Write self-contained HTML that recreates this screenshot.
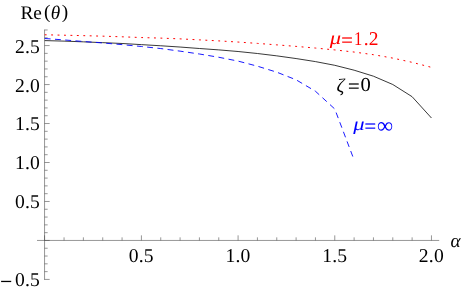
<!DOCTYPE html>
<html><head><meta charset="utf-8"><title>plot</title>
<style>
html,body{margin:0;padding:0;background:#fff;}
svg{display:block;will-change:transform}
text{font-family:"Liberation Serif",serif;font-size:19.6px;fill:#000;text-rendering:geometricPrecision}
.t text{letter-spacing:0.2px}
.i{font-style:italic}
.ax line{stroke:#444;stroke-width:0.56}
</style></head><body>
<svg width="463" height="290" viewBox="0 0 463 290">
<rect width="463" height="290" fill="#fff"/>
<g class="ax">
<line x1="37" y1="240.45" x2="439.2" y2="240.45"/>
<line x1="44.55" y1="29.6" x2="44.55" y2="279.85"/>
<line x1="44.55" y1="240.45" x2="44.55" y2="235.35"/>
<line x1="64.06" y1="240.45" x2="64.06" y2="237.35"/>
<line x1="83.39" y1="240.45" x2="83.39" y2="237.35"/>
<line x1="102.73" y1="240.45" x2="102.73" y2="237.35"/>
<line x1="122.07" y1="240.45" x2="122.07" y2="237.35"/>
<line x1="141.41" y1="240.45" x2="141.41" y2="235.35"/>
<line x1="160.74" y1="240.45" x2="160.74" y2="237.35"/>
<line x1="180.08" y1="240.45" x2="180.08" y2="237.35"/>
<line x1="199.42" y1="240.45" x2="199.42" y2="237.35"/>
<line x1="218.75" y1="240.45" x2="218.75" y2="237.35"/>
<line x1="238.09" y1="240.45" x2="238.09" y2="235.35"/>
<line x1="257.43" y1="240.45" x2="257.43" y2="237.35"/>
<line x1="276.76" y1="240.45" x2="276.76" y2="237.35"/>
<line x1="296.10" y1="240.45" x2="296.10" y2="237.35"/>
<line x1="315.44" y1="240.45" x2="315.44" y2="237.35"/>
<line x1="334.77" y1="240.45" x2="334.77" y2="235.35"/>
<line x1="354.11" y1="240.45" x2="354.11" y2="237.35"/>
<line x1="373.45" y1="240.45" x2="373.45" y2="237.35"/>
<line x1="392.79" y1="240.45" x2="392.79" y2="237.35"/>
<line x1="412.12" y1="240.45" x2="412.12" y2="237.35"/>
<line x1="431.46" y1="240.45" x2="431.46" y2="235.35"/>
<line x1="44.55" y1="279.43" x2="49.65" y2="279.43"/>
<line x1="44.55" y1="271.63" x2="47.65" y2="271.63"/>
<line x1="44.55" y1="263.83" x2="47.65" y2="263.83"/>
<line x1="44.55" y1="256.04" x2="47.65" y2="256.04"/>
<line x1="44.55" y1="248.24" x2="47.65" y2="248.24"/>
<line x1="44.55" y1="240.45" x2="49.65" y2="240.45"/>
<line x1="44.55" y1="232.66" x2="47.65" y2="232.66"/>
<line x1="44.55" y1="224.86" x2="47.65" y2="224.86"/>
<line x1="44.55" y1="217.06" x2="47.65" y2="217.06"/>
<line x1="44.55" y1="209.27" x2="47.65" y2="209.27"/>
<line x1="44.55" y1="201.47" x2="49.65" y2="201.47"/>
<line x1="44.55" y1="193.68" x2="47.65" y2="193.68"/>
<line x1="44.55" y1="185.88" x2="47.65" y2="185.88"/>
<line x1="44.55" y1="178.09" x2="47.65" y2="178.09"/>
<line x1="44.55" y1="170.29" x2="47.65" y2="170.29"/>
<line x1="44.55" y1="162.50" x2="49.65" y2="162.50"/>
<line x1="44.55" y1="154.70" x2="47.65" y2="154.70"/>
<line x1="44.55" y1="146.91" x2="47.65" y2="146.91"/>
<line x1="44.55" y1="139.11" x2="47.65" y2="139.11"/>
<line x1="44.55" y1="131.32" x2="47.65" y2="131.32"/>
<line x1="44.55" y1="123.52" x2="49.65" y2="123.52"/>
<line x1="44.55" y1="115.73" x2="47.65" y2="115.73"/>
<line x1="44.55" y1="107.93" x2="47.65" y2="107.93"/>
<line x1="44.55" y1="100.14" x2="47.65" y2="100.14"/>
<line x1="44.55" y1="92.34" x2="47.65" y2="92.34"/>
<line x1="44.55" y1="84.55" x2="49.65" y2="84.55"/>
<line x1="44.55" y1="76.75" x2="47.65" y2="76.75"/>
<line x1="44.55" y1="68.96" x2="47.65" y2="68.96"/>
<line x1="44.55" y1="61.16" x2="47.65" y2="61.16"/>
<line x1="44.55" y1="53.37" x2="47.65" y2="53.37"/>
<line x1="44.55" y1="45.57" x2="49.65" y2="45.57"/>
<line x1="44.55" y1="37.78" x2="47.65" y2="37.78"/>
<line x1="44.55" y1="29.98" x2="47.65" y2="29.98"/>
</g>
<polyline points="44.72,40.60 64.06,41.11 83.39,41.84 102.73,42.65 122.07,43.49 141.41,44.64 160.74,45.77 180.08,47.04 199.42,48.50 218.75,49.89 238.09,51.50 257.43,53.50 276.76,55.85 296.10,58.55 315.44,61.60 334.77,65.30 354.11,70.20 373.45,76.20 392.79,84.50 412.12,96.70 431.46,118.00" fill="none" stroke="#000" stroke-width="0.78"/>
<polyline points="44.72,34.80 64.06,35.21 83.39,35.65 102.73,36.16 122.07,36.80 141.41,37.56 160.74,38.11 180.08,38.87 199.42,39.86 218.75,40.89 238.09,42.05 257.43,43.40 276.76,44.86 296.10,46.39 315.44,48.05 334.77,49.92 354.11,52.05 373.45,54.69 392.79,58.10 412.12,62.33 430.49,67.10" fill="none" stroke="#ff0000" stroke-width="1.0" stroke-dasharray="1.9 4.53"/>
<polyline points="44.72,38.50 64.06,39.92 83.39,41.49 102.73,42.96 122.07,44.64 141.41,46.49 160.74,48.55 180.08,51.15 199.42,54.01 218.75,57.26 238.09,61.10 257.43,66.19 276.76,72.17 296.10,79.80 315.44,91.24 334.77,109.00 352.90,156.80" fill="none" stroke="#0000ff" stroke-width="0.9" stroke-dasharray="5.9 4.38"/>
<text x="20.5" y="18.5" style="font-size:19.3px">Re</text>
<text transform="translate(44.05,18.30)" style="font-size:19.3px">(</text>
<text transform="translate(50.86,18.50)" style="font-size:19.3px" class="i">θ</text>
<text transform="translate(61.78,18.30)" style="font-size:19.3px">)</text>
<g class="t">
<text x="40.0" y="52.52" text-anchor="end">2.5</text>
<text x="40.0" y="91.50" text-anchor="end">2.0</text>
<text x="40.0" y="130.47" text-anchor="end">1.5</text>
<text x="40.0" y="169.45" text-anchor="end">1.0</text>
<text x="40.0" y="208.42" text-anchor="end">0.5</text>
<text x="40.0" y="286.38" text-anchor="end">0.5</text>
<text x="141.3" y="261.9" text-anchor="middle">0.5</text>
<text x="238.0" y="261.9" text-anchor="middle">1.0</text>
<text x="334.7" y="261.9" text-anchor="middle">1.5</text>
<text x="431.4" y="261.9" text-anchor="middle">2.0</text>
</g>
<text transform="translate(-0.08,289.77) scale(1.1,1.3)" style="font-size:19.8px">−</text>
<text x="450.4" y="247.4" class="i" style="font-size:19.3px">α</text>
<text transform="translate(329.81,44.30) scale(1.16,0.95)" style="font-size:19.5px;fill:#ff0000" class="i">μ</text>
<text transform="translate(341.30,46.66) scale(1.081,1.087)" style="font-size:19.0px;stroke-width:0.18px;fill:#ff0000;stroke:#ff0000">=</text>
<text transform="translate(353.93,44.50) scale(0.85,1.0)" style="font-size:19.5px;fill:#ff0000">1</text>
<text transform="translate(363.76,44.50)" style="font-size:19.5px;fill:#ff0000">.</text>
<text transform="translate(368.63,44.50)" style="font-size:19.5px;fill:#ff0000">2</text>
<text transform="translate(336.44,91.60)" style="font-size:19.3px" class="i">ζ</text>
<text transform="translate(347.90,93.01) scale(1.081,1.087)" style="font-size:19.0px;stroke-width:0.18px;stroke:#000">=</text>
<text transform="translate(360.60,91.30) scale(1.04,1.0)" style="font-size:19.8px">0</text>
<text transform="translate(353.31,130.40) scale(1.16,0.95)" style="font-size:19.5px;fill:#0000ff" class="i">μ</text>
<text transform="translate(364.55,132.66) scale(1.081,1.087)" style="font-size:19.0px;stroke-width:0.18px;fill:#0000ff;stroke:#0000ff">=</text>
<text transform="translate(377.11,132.80) scale(1.05,1.06)" style="font-size:21.5px;fill:#0000ff">∞</text>
</svg>
</body></html>
